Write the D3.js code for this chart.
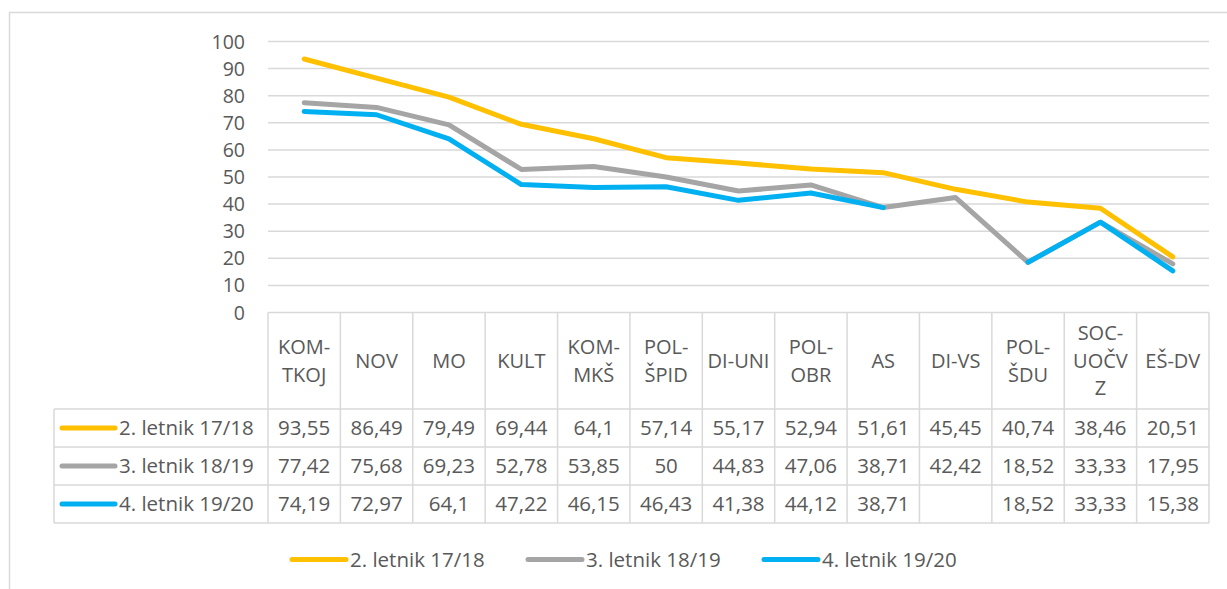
<!DOCTYPE html>
<html>
<head>
<meta charset="utf-8">
<script src="https://cdn.jsdelivr.net/npm/d3@7"></script>
<style>
  body { margin: 0; background: #fff; }
  text { font-family: "Open Sans", Lato, sans-serif; fill: #595959; }
</style>
</head>
<body>
<svg id="chart" width="1227" height="589"></svg>
<script>
// categories as shown in the data table (wrapped lines)
var categories = ['KOM-TKOJ', 'NOV', 'MO', 'KULT', 'KOM-MKŠ', 'POL-ŠPID', 'DI-UNI',
                  'POL-OBR', 'AS', 'DI-VS', 'POL-ŠDU', 'SOC-UOČVZ', 'EŠ-DV'];
var categoryLines = [['KOM-', 'TKOJ'], ['NOV'], ['MO'], ['KULT'], ['KOM-', 'MKŠ'], ['POL-', 'ŠPID'],
                     ['DI-UNI'], ['POL-', 'OBR'], ['AS'], ['DI-VS'], ['POL-', 'ŠDU'], ['SOC-', 'UOČV', 'Z'], ['EŠ-DV']];
var seriesNames = ['2. letnik 17/18', '3. letnik 18/19', '4. letnik 19/20'];
var seriesColors = ['#FFC000', '#A5A5A5', '#00B0F0'];
var letnik2 = [93.55, 86.49, 79.49, 69.44, 64.1, 57.14, 55.17, 52.94, 51.61, 45.45, 40.74, 38.46, 20.51];
var letnik3 = [77.42, 75.68, 69.23, 52.78, 53.85, 50, 44.83, 47.06, 38.71, 42.42, 18.52, 33.33, 17.95];
var letnik4 = [74.19, 72.97, 64.1, 47.22, 46.15, 46.43, 41.38, 44.12, 38.71, null, 18.52, 33.33, 15.38];
var yTicks = [0, 10, 20, 30, 40, 50, 60, 70, 80, 90, 100];

var series = [letnik2, letnik3, letnik4];

var svg = d3.select('#chart');

// outer chart border (cropped at right and bottom)
svg.append('path')
    .attr('d', 'M9.5,589 L9.5,12.5 L1227,12.5')
    .attr('fill', 'none')
    .attr('stroke', '#d9d9d9')
    .attr('stroke-width', 1.5);

var plotLeft = 268, plotRight = 1209;
var x = d3.scaleBand().domain(categories).range([plotLeft, plotRight]);
var y = d3.scaleLinear().domain([0, 100]).range([312.5, 41.5]);

// gridlines
svg.append('g').selectAll('line')
    .data(yTicks.filter(function(d) { return d > 0; }))
  .enter().append('line')
    .attr('x1', plotLeft).attr('x2', plotRight)
    .attr('y1', function(d) { return y(d); })
    .attr('y2', function(d) { return y(d); })
    .attr('stroke', '#d9d9d9')
    .attr('stroke-width', 1.5);

// y axis labels
svg.append('g').selectAll('text')
    .data(yTicks)
  .enter().append('text')
    .attr('x', 245)
    .attr('y', function(d) { return y(d) + 7; })
    .attr('text-anchor', 'end')
    .style('font-size', '19.5px')
    .text(function(d) { return d; });

// data table
var tableLeft = 54;
var headerTop = y(0), headerBottom = 409;
var rowH = 38;
var tableBottom = headerBottom + rowH * 3;
var grid = svg.append('g').attr('stroke', '#d9d9d9').attr('stroke-width', 1.5);

grid.append('line').attr('x1', plotLeft).attr('x2', plotRight)
    .attr('y1', headerTop).attr('y2', headerTop);
for (var r = 0; r <= 3; r++) {
  grid.append('line').attr('x1', tableLeft).attr('x2', plotRight)
      .attr('y1', headerBottom + r * rowH).attr('y2', headerBottom + r * rowH);
}
grid.append('line').attr('x1', tableLeft).attr('x2', tableLeft)
    .attr('y1', headerBottom).attr('y2', tableBottom);
categories.forEach(function(c, i) {
  var cx = x(c);
  grid.append('line').attr('x1', cx).attr('x2', cx)
      .attr('y1', headerTop).attr('y2', tableBottom);
});
grid.append('line').attr('x1', plotRight).attr('x2', plotRight)
    .attr('y1', headerTop).attr('y2', tableBottom);

// category header labels
var lineH = 27.5;
var headerMid = (headerTop + headerBottom) / 2;
categories.forEach(function(c, i) {
  var lines = categoryLines[i];
  var t = svg.append('text')
      .attr('text-anchor', 'middle')
      .style('font-size', '20px');
  lines.forEach(function(l, j) {
    t.append('tspan')
        .attr('x', x(c) + x.bandwidth() / 2)
        .attr('y', headerMid + 7 + (j - (lines.length - 1) / 2) * lineH)
        .text(l);
  });
});

// rows: legend key + values
var fmt = function(v) { return String(v).replace('.', ','); };
series.forEach(function(vals, s) {
  var cy = headerBottom + s * rowH + rowH / 2;
  svg.append('line')
      .attr('x1', 62).attr('x2', 115)
      .attr('y1', cy).attr('y2', cy)
      .attr('stroke', seriesColors[s])
      .attr('stroke-width', 5)
      .attr('stroke-linecap', 'round');
  svg.append('text')
      .attr('x', 119).attr('y', cy + 7)
      .style('font-size', '20.5px')
      .text(seriesNames[s]);
  vals.forEach(function(v, i) {
    if (v === null) return;
    svg.append('text')
        .attr('x', x(categories[i]) + x.bandwidth() / 2)
        .attr('y', cy + 7)
        .attr('text-anchor', 'middle')
        .style('font-size', '20.5px')
        .text(fmt(v));
  });
});

// lines
var line = d3.line()
    .defined(function(d) { return d !== null; })
    .x(function(d, i) { return x(categories[i]) + x.bandwidth() / 2; })
    .y(function(d) { return y(d); });

series.forEach(function(vals, s) {
  svg.append('path')
      .datum(vals)
      .attr('d', line)
      .attr('fill', 'none')
      .attr('stroke', seriesColors[s])
      .attr('stroke-width', 5)
      .attr('stroke-linejoin', 'round')
      .attr('stroke-linecap', 'round');
});

// legend
var legendX = [292, 528, 764];
seriesNames.forEach(function(n, s) {
  svg.append('line')
      .attr('x1', legendX[s]).attr('x2', legendX[s] + 54)
      .attr('y1', 559.5).attr('y2', 559.5)
      .attr('stroke', seriesColors[s])
      .attr('stroke-width', 5)
      .attr('stroke-linecap', 'round');
  svg.append('text')
      .attr('x', legendX[s] + 58).attr('y', 566.5)
      .style('font-size', '20.5px')
      .text(n);
});
</script>
</body>
</html>
